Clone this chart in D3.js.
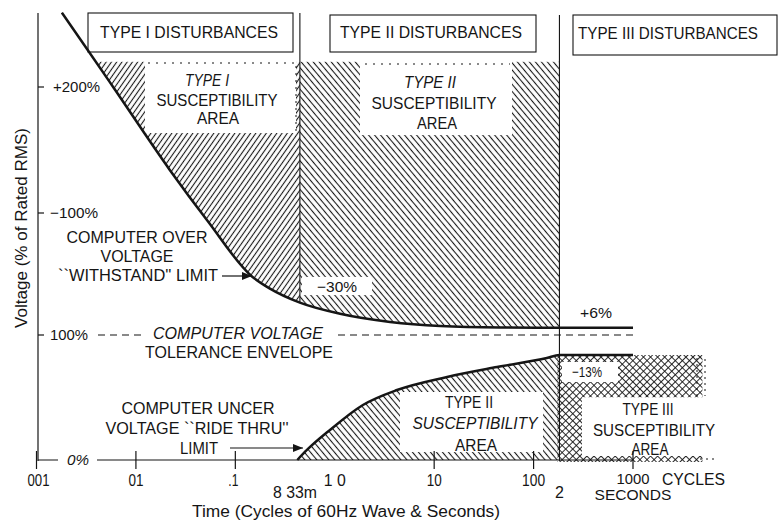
<!DOCTYPE html>
<html><head><meta charset="utf-8">
<script src="https://cdn.jsdelivr.net/npm/d3@7"></script>
<style>
html,body{margin:0;padding:0;background:#fff;}
svg{display:block;}
text{font-family:"Liberation Sans",Arial,Helvetica,sans-serif;fill:#151515;}
</style></head><body>
<svg id="chart" width="778" height="521"></svg>
<script>
// Time axis: cycles of 60 Hz; voltage: % of rated RMS
const xTickValues = [0.001, 0.01, 0.1, 1, 10, 100, 1000];
const xTickLabels = ["001", "01", ".1", "1 0", "10", "100", "1000"];
const yTickValues = [300, 200, 100, 0];
const yTickLabels = ["+200%", "\u2212100%", "100%", "0%"];

// Over-voltage "withstand" limit: [cycles, % of rated]
const overVoltage = [[0.0018,359],[0.0033,329],[0.0059,300],[0.022,234],[0.052,194],[0.147,148],
  [0.223,138],[0.446,126.5],[1.13,117.4],[3.6,110.7],[11.5,107.4],[45.9,106.2],[182,106],[1000,106]];
// Under-voltage "ride thru" limit
const underVoltage = [[0.42,0],[0.525,8.3],[0.895,24.9],[1.92,45.6],[4.23,58],[13.5,68.8],
  [42.9,77],[136,84.5],[182,87],[1000,87]];

const typeBounds = [0.446, 182];   // Type I/II and Type II/III limits (cycles)
const hatchTop = 320;              // upper edge of the susceptibility hatching (%)
const typeIIIEnd = 5000;           // right end of Type III area (cycles)
const typeIIIBand = 52;            // lower edge of the Type III band (%)

const svg = d3.select("#chart");
const x = d3.scaleLog().domain([0.001, 1000]).range([36.5, 633]);
const y = d3.scaleLinear().domain([0, 87, 100, 200, 300]).range([460, 355, 335, 213, 87]);
const INK = "#151515";
const axisX = 38;

// ---- patterns ----
const defs = svg.append("defs");
function hatch(id, angle, gap, w) {
  const p = defs.append("pattern").attr("id", id).attr("patternUnits", "userSpaceOnUse")
    .attr("width", gap).attr("height", gap).attr("patternTransform", `rotate(${angle})`);
  p.append("line").attr("x1", gap / 2).attr("x2", gap / 2).attr("y1", -1).attr("y2", gap + 1)
    .attr("stroke", INK).attr("stroke-width", w);
}
hatch("hatchI", 35, 4.3, 1.1);
hatch("hatchII", -40, 4.6, 1.1);
const cp = defs.append("pattern").attr("id", "cross").attr("patternUnits", "userSpaceOnUse")
  .attr("width", 5).attr("height", 5).attr("patternTransform", "rotate(45)");
cp.append("line").attr("x1", 2.5).attr("x2", 2.5).attr("y1", -1).attr("y2", 6).attr("stroke", INK).attr("stroke-width", 0.9);
cp.append("line").attr("y1", 2.5).attr("y2", 2.5).attr("x1", -1).attr("x2", 6).attr("stroke", INK).attr("stroke-width", 0.9);

defs.append("marker").attr("id", "arrow").attr("viewBox", "0 0 10 8").attr("refX", 10).attr("refY", 4)
  .attr("markerWidth", 10).attr("markerHeight", 8).attr("markerUnits", "userSpaceOnUse").attr("orient", "auto")
  .append("path").attr("d", "M0,0L10,4L0,8Z").attr("fill", INK);

const aboveCurve = d3.area().x(d => x(d[0])).y0(0).y1(d => y(d[1])).curve(d3.curveMonotoneX);
defs.append("clipPath").attr("id", "clipAbove").append("path").attr("d", aboveCurve(overVoltage));

// ---- susceptibility areas ----
const g = svg.append("g");
g.append("rect").attr("x", x(0.001)).attr("y", y(hatchTop))
  .attr("width", x(typeBounds[0]) - x(0.001)).attr("height", y(100) - y(hatchTop))
  .attr("fill", "url(#hatchI)").attr("clip-path", "url(#clipAbove)");
g.append("rect").attr("x", x(typeBounds[0])).attr("y", y(hatchTop))
  .attr("width", x(typeBounds[1]) - x(typeBounds[0])).attr("height", y(100) - y(hatchTop))
  .attr("fill", "url(#hatchII)").attr("clip-path", "url(#clipAbove)");
const lowerArea = d3.area().x(d => x(d[0])).y0(y(0)).y1(d => y(d[1])).curve(d3.curveMonotoneX);
g.append("path").attr("d", lowerArea(underVoltage.filter(d => d[0] <= typeBounds[1])))
  .attr("fill", "url(#hatchII)");
g.append("rect").attr("x", x(typeBounds[1]) - 2).attr("y", y(87))
  .attr("width", x(typeIIIEnd) - x(typeBounds[1]) + 2).attr("height", y(0) - y(87) + 2)
  .attr("fill", "url(#cross)");

// clear panels carrying the area names
const white = (parent, x0, y0, x1, y1) => parent.append("rect").attr("x", x0).attr("y", y0)
  .attr("width", x1 - x0).attr("height", y1 - y0).attr("fill", "#fff");
white(g, 145, 60, 296, 133);
white(g, 360, 60, 512, 135);
white(g, 400, 392, 543, 452);
white(g, 582, y(typeIIIBand), 725, 456);
white(g, 302, 277, 372, 295);
white(g, 562, 362, 618, 382);

// dotted edges of the panels
const dotted = (x0, y0, x1, y1, dash) => g.append("line").attr("x1", x0).attr("y1", y0).attr("x2", x1).attr("y2", y1)
  .attr("stroke", INK).attr("stroke-width", 1).attr("stroke-dasharray", dash || "2,6");
dotted(148, 63, 296, 63);
dotted(365, 64, 510, 64);
dotted(296, 66, 296, 133, "2,5");
dotted(697, 358, 697, 396, "2,4");
dotted(705, 359, 705, 396, "2,4");
dotted(700, 459, 714, 459, "2,4");

// ---- 100% tolerance envelope (dashed) ----
svg.append("line").attr("x1", 98).attr("x2", x(1000)).attr("y1", y(100)).attr("y2", y(100))
  .attr("stroke", INK).attr("stroke-width", 1.1).attr("stroke-dasharray", "7,5");
white(svg, 142, 325, 337, 344);

// ---- region boundaries ----
const overAtB1 = overVoltage.find(d => d[0] === typeBounds[0])[1];
svg.append("line").attr("x1", x(typeBounds[0])).attr("x2", x(typeBounds[0]))
  .attr("y1", 13).attr("y2", y(overAtB1)).attr("stroke", INK).attr("stroke-width", 1.1);
svg.append("line").attr("x1", x(typeBounds[1])).attr("x2", x(typeBounds[1]))
  .attr("y1", 15).attr("y2", y(0) + 1).attr("stroke", INK).attr("stroke-width", 1.1);

// ---- axes ----
svg.append("line").attr("x1", axisX).attr("x2", axisX).attr("y1", 13).attr("y2", y(0) + 1)
  .attr("stroke", INK).attr("stroke-width", 1.2);
svg.append("line").attr("x1", axisX).attr("x2", x(1000)).attr("y1", y(0)).attr("y2", y(0))
  .attr("stroke", INK).attr("stroke-width", 1.2);
yTickValues.filter(v => v > 0).forEach(v => {
  svg.append("line").attr("x1", axisX).attr("x2", axisX + 6).attr("y1", y(v)).attr("y2", y(v))
    .attr("stroke", INK).attr("stroke-width", 1.2);
});
xTickValues.filter(v => v !== 1).forEach(v => {
  svg.append("line").attr("x1", x(v)).attr("x2", x(v)).attr("y1", y(0) - 9).attr("y2", y(0) + 9)
    .attr("stroke", INK).attr("stroke-width", 1.2);
});

// ---- limit curves ----
const line = d3.line().x(d => x(d[0])).y(d => y(d[1])).curve(d3.curveMonotoneX);
svg.append("path").attr("d", line(overVoltage)).attr("fill", "none").attr("stroke", INK)
  .attr("stroke-width", 2.5).attr("stroke-linejoin", "round");
svg.append("path").attr("d", line(underVoltage)).attr("fill", "none").attr("stroke", INK)
  .attr("stroke-width", 2.5).attr("stroke-linejoin", "round");

// ---- disturbance headers ----
[[88, 13, 293, 52], [330, 15, 536, 52], [573, 15, 777, 55]].forEach(b => {
  svg.append("rect").attr("x", b[0]).attr("y", b[1]).attr("width", b[2] - b[0]).attr("height", b[3] - b[1])
    .attr("fill", "none").attr("stroke", INK).attr("stroke-width", 1.1);
});

// ---- text ----
function label(t, cx, by, o = {}) {
  const el = svg.append("text").attr("x", cx).attr("y", by)
    .attr("text-anchor", o.anchor || "middle").attr("font-size", o.size || 16).text(t);
  if (o.italic) el.attr("font-style", "italic");
  if (o.w) el.attr("textLength", o.w).attr("lengthAdjust", "spacingAndGlyphs");
  return el;
}
label("TYPE I DISTURBANCES", 189, 38, {size: 17, w: 178});
label("TYPE II DISTURBANCES", 431, 38, {size: 17, w: 182});
label("TYPE III DISTURBANCES", 668, 39, {size: 17, w: 180});

label("TYPE I", 207, 86, {size: 16, italic: true, w: 44});
label("SUSCEPTIBILITY", 217, 106, {size: 17, w: 121});
label("AREA", 218, 124, {size: 17, w: 42});

label("TYPE II", 430, 88, {size: 16, italic: true, w: 52});
label("SUSCEPTIBILITY", 434, 109, {size: 17, w: 125});
label("AREA", 437, 129, {size: 17, w: 40});

label("TYPE II", 469, 408, {size: 16, w: 48});
label("SUSCEPTIBILITY", 475, 429, {size: 17, italic: true, w: 125});
label("AREA", 476, 451, {size: 17, w: 42});

label("TYPE III", 648, 415, {size: 16, w: 51});
label("SUSCEPTIBILITY", 654, 436, {size: 17, w: 122});
label("AREA", 650, 455, {size: 17, w: 37});

label("COMPUTER OVER", 137, 243, {size: 16, w: 141});
label("VOLTAGE", 137, 262, {size: 16, w: 73});
label("``WITHSTAND'' LIMIT", 138, 281, {size: 16, w: 160});
svg.append("line").attr("x1", 222).attr("x2", 252).attr("y1", 276).attr("y2", 276)
  .attr("stroke", INK).attr("stroke-width", 1.2).attr("marker-end", "url(#arrow)");

label("COMPUTER VOLTAGE", 238, 339, {size: 16, italic: true, w: 170});
label("TOLERANCE ENVELOPE", 239, 358, {size: 16, w: 188});

label("COMPUTER UNCER", 198, 414, {size: 16, w: 153});
label("VOLTAGE ``RIDE THRU''", 197, 434, {size: 16, w: 183});
label("LIMIT", 199, 454, {size: 16, w: 38});
svg.append("line").attr("x1", 230).attr("x2", 303).attr("y1", 448).attr("y2", 448)
  .attr("stroke", INK).attr("stroke-width", 1.2).attr("marker-end", "url(#arrow)");

label("\u221230%", 337, 292, {size: 15, w: 40});
label("+6%", 596, 318, {size: 15, w: 32});
label("\u221213%", 587, 377, {size: 15, w: 30});

// y tick labels
const yLabW = [47, 48, 38, 22];
yTickValues.forEach((v, i) => {
  const isZero = v === 0;
  if (isZero) white(svg, 58, y(0) - 9, 97, y(0) + 3);
  label(yTickLabels[i], isZero ? 67 : (v === 300 ? 53 : 50), y(v) + 5,
    {size: 15, anchor: "start", w: yLabW[i], italic: isZero});
});

// x tick labels
const xLabW = [22, 15, 10, 22, 15, 23, 33];
xTickValues.forEach((v, i) => {
  label(xTickLabels[i], x(v) + (i === 0 ? 2 : 0) - (i === 2 ? 2 : 0), i === 6 ? 484 : 486,
    {size: i === 6 ? 15 : 16, w: xLabW[i]});
});
label("CYCLES", 662, 485, {size: 16, anchor: "start", w: 63});
label("SECONDS", 633, 500, {size: 15, w: 77});
label("2", x(typeBounds[1]), 498, {size: 16});
label("8 33m", 295, 498, {size: 16, w: 44});
label("Time (Cycles of 60Hz Wave & Seconds)", 346, 517, {size: 16, w: 308});

svg.append("text").attr("transform", "translate(27,228) rotate(-90)")
  .attr("text-anchor", "middle").attr("font-size", 17)
  .attr("textLength", 200).attr("lengthAdjust", "spacingAndGlyphs")
  .text("Voltage (% of Rated RMS)");
</script>
</body></html>
